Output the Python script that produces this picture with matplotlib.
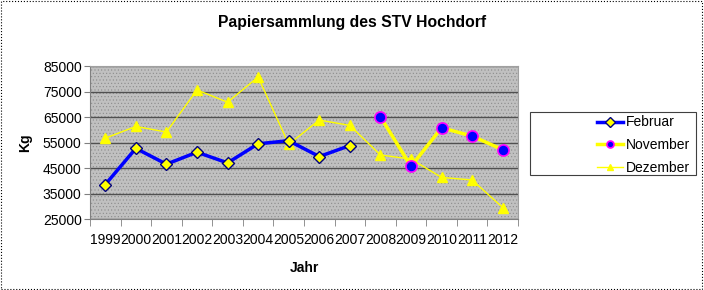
import numpy as np
import matplotlib
matplotlib.use('Agg')
import matplotlib.pyplot as plt
from matplotlib.patches import Rectangle

plt.rcParams['font.family'] = ['Liberation Sans', 'DejaVu Sans']
plt.rcParams['hatch.linewidth'] = 0.4

years = ['1999', '2000', '2001', '2002', '2003', '2004', '2005',
         '2006', '2007', '2008', '2009', '2010', '2011', '2012']
februar = [38500, 52700, 46500, 51200, 47000, 54500, 55700, 49500, 53800,
           None, None, None, None, None]
november = [None, None, None, None, None, None, None, None, None,
            65100, 45600, 60800, 57500, 52200]
dezember = [56700, 61300, 59100, 75600, 70800, 80700, 54300, 63800, 61700,
            50100, 48500, 41300, 40300, 29500]
yticks = [25000, 35000, 45000, 55000, 65000, 75000, 85000]

def as_arr(vals):
    return np.array([np.nan if v is None else v for v in vals], dtype=float)

x = np.arange(len(years))

fig = plt.figure(figsize=(7.04, 2.9), dpi=100)
ax = fig.add_axes([0.1278, 0.2448, 0.608, 0.5276])

ax.set_facecolor('#c0c0c0')
bg = Rectangle((0, 0), 1, 1, transform=ax.transAxes, facecolor='#c0c0c0',
               edgecolor='#8c8c8c', hatch='.....', linewidth=0, zorder=0)
ax.add_patch(bg)

ax.plot(x, as_arr(dezember), color='#ffff00', linewidth=1,
        marker='^', markersize=7, markerfacecolor='#ffff00',
        markeredgecolor='#ffff00', label='Dezember', zorder=3)
ax.plot(x, as_arr(februar), color='#0000ff', linewidth=2.5,
        marker='D', markersize=6, markerfacecolor='#ffff00',
        markeredgecolor='#000080', markeredgewidth=1, label='Februar', zorder=4)
ax.plot(x, as_arr(november), color='#ffff00', linewidth=2.5,
        marker='o', markersize=8, markerfacecolor='#0000ff',
        markeredgecolor='#ff00ff', markeredgewidth=1.2, label='November', zorder=4)

ax.set_xlim(-0.5, len(years) - 0.5)
ax.set_ylim(25000, 85000)
ax.set_yticks(yticks)
ax.set_yticklabels([str(v) for v in yticks], fontsize=10)
ax.yaxis.grid(True, color='#505050', linewidth=1)
ax.set_axisbelow(True)
for gl in ax.get_ygridlines():
    gl.set_zorder(1)

ax.set_xticks(x)
ax.set_xticklabels(years, fontsize=10)
ax.tick_params(axis='x', length=0, pad=10)
ax.set_xticks(np.arange(len(years) + 1) - 0.5, minor=True)
ax.tick_params(axis='x', which='minor', length=5, direction='out', color='#808080')
ax.tick_params(axis='y', length=4, direction='out', color='#808080', pad=2)

for side in ['left', 'bottom']:
    ax.spines[side].set_color('#808080')
for side in ['top', 'right']:
    ax.spines[side].set_color('#a0a0a0')

ax.set_xlabel('Jahr', fontsize=10, fontweight='bold', labelpad=10)
ax.set_ylabel('Kg', fontsize=10, fontweight='bold', labelpad=8)

fig.text(0.5, 0.922, 'Papiersammlung des STV Hochdorf', ha='center', va='center',
         fontsize=11.3, fontweight='bold')

# legend box drawn by hand, entries placed inside it
fig.patches.append(Rectangle((530 / 704, 1 - 175 / 290), 166 / 704, 63 / 290,
                             transform=fig.transFigure, facecolor='white',
                             edgecolor='#404040', linewidth=0.8))
handles, labels = ax.get_legend_handles_labels()
order = [1, 2, 0]
leg = fig.legend([handles[i] for i in order], [labels[i] for i in order],
                 loc='center left', bbox_to_anchor=(597 / 704, 1 - 145 / 290),
                 fontsize=10, frameon=False, handlelength=1.9,
                 borderpad=0, labelspacing=0.62, handletextpad=0.15,
                 borderaxespad=0)
for h in leg.legend_handles:
    h.set_markersize(5)

fig.patches.append(Rectangle((0.002, 0.004), 0.995, 0.992, transform=fig.transFigure,
                             fill=False, edgecolor='black', linestyle=':', linewidth=0.8))

fig.savefig('out.png', dpi=100)
